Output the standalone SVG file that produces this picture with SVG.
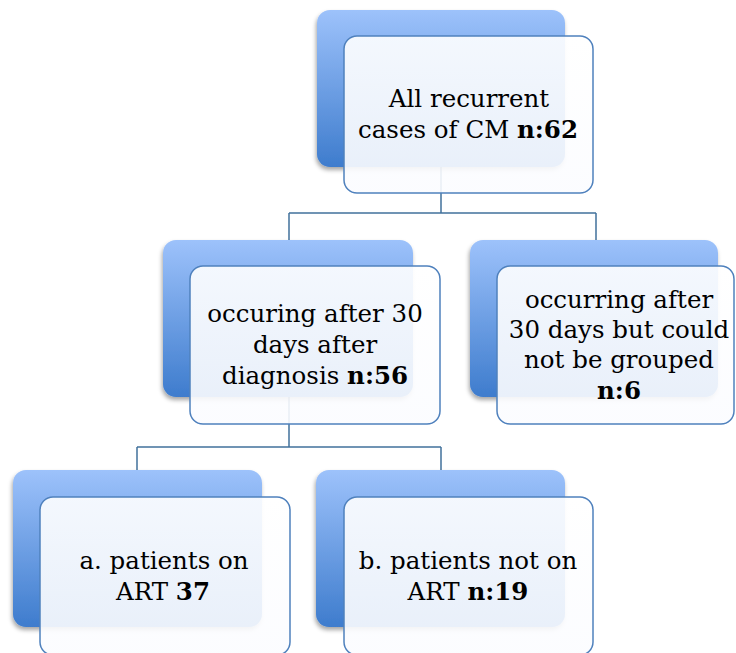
<svg xmlns="http://www.w3.org/2000/svg" width="736" height="653" viewBox="0 0 736 653">
<defs>
<linearGradient id="bg" x1="0" y1="0" x2="0" y2="1">
<stop offset="0" stop-color="#9dc2fb"/>
<stop offset="1" stop-color="#3e7ccd"/>
</linearGradient>
<linearGradient id="fg" x1="0" y1="0" x2="0" y2="1">
<stop offset="0" stop-color="#ffffff"/>
<stop offset="1" stop-color="#fbfcff"/>
</linearGradient>
<filter id="sh" x="-10%" y="-10%" width="120%" height="125%">
<feDropShadow dx="-1" dy="3" stdDeviation="2.2" flood-color="#000" flood-opacity="0.35"/>
</filter>
</defs>
<style>
.back{fill:url(#bg);filter:url(#sh)}
.front{fill:url(#fg);fill-opacity:0.9;stroke:#4f81bd;stroke-width:1.5}
.conn{fill:none;stroke:#41719c;stroke-width:1.5}
text{font-family:"DejaVu Serif","Liberation Serif",serif;font-size:24.5px;fill:#000;text-anchor:middle}
.b{font-weight:bold}
</style>
<rect width="736" height="653" fill="#ffffff"/>
<g id="connectors">
<path class="conn" d="M441,167 V213 M289,213 H596 M289,213 V240 M596,213 V240"/>
<path class="conn" d="M289,397 V447 M137,447 H441 M137,447 V470 M441,447 V470"/>
</g>
<g id="node-top">
<rect class="back" x="317" y="10" width="248" height="157" rx="13"/>
<rect class="front" x="344" y="36" width="249" height="157" rx="13"/>
<text x="469" y="107">All recurrent</text>
<text x="468" y="138">cases of CM <tspan class="b">n:62</tspan></text>
</g>
<g id="node-mid-left">
<rect class="back" x="163" y="240" width="250" height="157" rx="13"/>
<rect class="front" x="190" y="266" width="250" height="158" rx="13"/>
<text x="315" y="322">occuring after 30</text>
<text x="315" y="353">days after</text>
<text x="315" y="384">diagnosis <tspan class="b">n:56</tspan></text>
</g>
<g id="node-mid-right">
<rect class="back" x="470" y="240" width="248" height="157" rx="13"/>
<rect class="front" x="497" y="266" width="237" height="158" rx="13"/>
<text x="619" y="308">occurring after</text>
<text x="619" y="338">30 days but could</text>
<text x="619" y="368">not be grouped</text>
<text x="619" y="399" class="b">n:6</text>
</g>
<g id="node-bottom-left">
<rect class="back" x="13" y="470" width="249" height="157" rx="13"/>
<rect class="front" x="40" y="497" width="250" height="158" rx="13"/>
<text x="164" y="569">a. patients on</text>
<text x="163" y="600">ART <tspan class="b">37</tspan></text>
</g>
<g id="node-bottom-right">
<rect class="back" x="316" y="470" width="249" height="157" rx="13"/>
<rect class="front" x="344" y="497" width="249" height="158" rx="13"/>
<text x="468" y="569">b. patients not on</text>
<text x="468" y="600">ART <tspan class="b">n:19</tspan></text>
</g>
</svg>
